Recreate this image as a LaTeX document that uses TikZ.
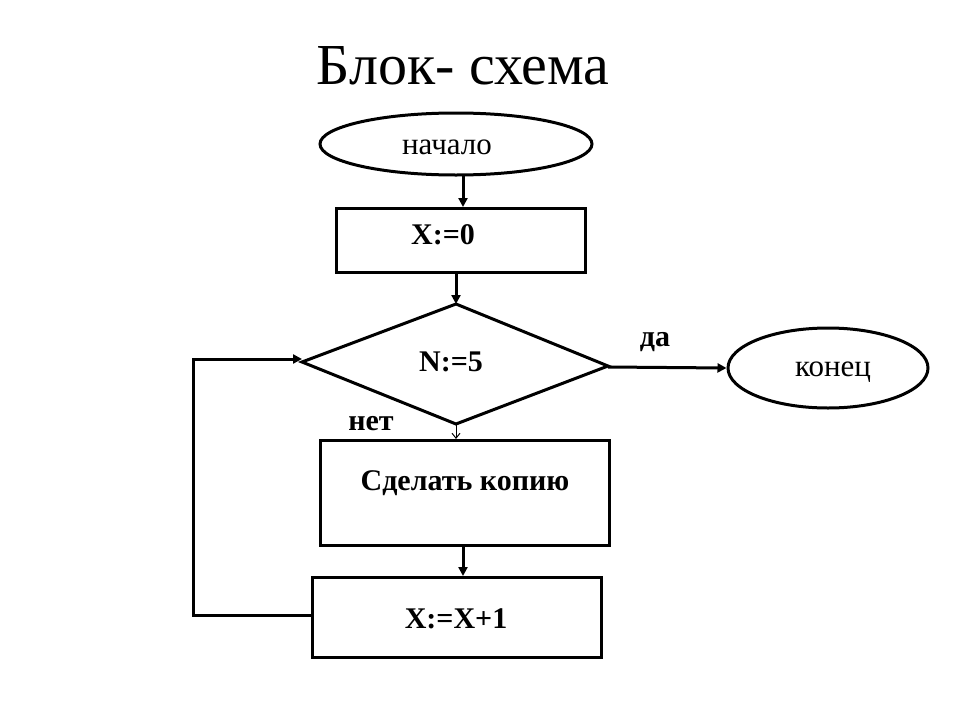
\documentclass[tikz,border=0pt]{standalone}
\usepackage{fontspec}
\setmainfont{Liberation Serif}
\usetikzlibrary{shapes.geometric,arrows.meta}
\begin{document}
\begin{tikzpicture}[x=1pt,y=-1pt,
  box/.style={draw,line width=3pt,inner sep=0,anchor=north west},
  lbl/.style={font=\fontsize{30}{32}\selectfont\bfseries},
  arr/.style={line width=3pt,-{Triangle[length=9pt,width=9pt]}}]
\useasboundingbox (0,0) rectangle (960,720);
\node (title) at (463,66) {\fontsize{58}{62}\selectfont Блок- схема};
\node[draw,ellipse,line width=3pt,minimum width=272pt,minimum height=62pt,inner sep=0] (start) at (456,144) {};
\node[font=\fontsize{31}{32}\selectfont] (tstart) at (447,147) {начало};
\node[box,minimum width=249pt,minimum height=64pt] (r1) at (335,207) {};
\node[lbl] (t1) at (443,235) {X:=0};
\coordinate (dT) at (456,304);
\coordinate (dR) at (608,366);
\coordinate (dB) at (456,424);
\coordinate (dL) at (302,362);
\draw[line width=3pt,line join=miter] (dT) -- (dR) -- (dB) -- (dL) -- cycle;
\node[lbl] (td) at (451,362) {N:=5};
\node[draw,ellipse,line width=3pt,minimum width=200pt,minimum height=80pt,inner sep=0] (end) at (828,368) {};
\node[font=\fontsize{31}{32}\selectfont] (tend) at (833,372) {конец};
\node[box,minimum width=289pt,minimum height=105pt] (r2) at (319,439) {};
\node[lbl] (t2) at (465,483) {Сделать копию};
\node[box,minimum width=289pt,minimum height=80pt] (r3) at (311,576) {};
\node[lbl] (t3) at (456,619) {X:=X+1};
\node[lbl] (yes) at (655,342) {да};
\node[lbl] (no) at (371,424) {нет};
\coordinate (c1) at (193,615);
\coordinate (c2) at (193,359);
\coordinate (r1b) at (456,271);
\coordinate (r2t) at (456,439);
\draw[arr] (463,175) -- (463,207);
\draw[arr] (r1b) -- (dT);
\draw[arr] (608,367) -- (end.west);
\draw[line width=1pt,-{Straight Barb[length=5pt,width=8pt]}] (dB) -- (r2t);
\draw[arr] (463,544) -- (463,576);
\draw[arr] (311,615) -- (c1) -- (c2) -- (dL |- c2);
\end{tikzpicture}
\end{document}
